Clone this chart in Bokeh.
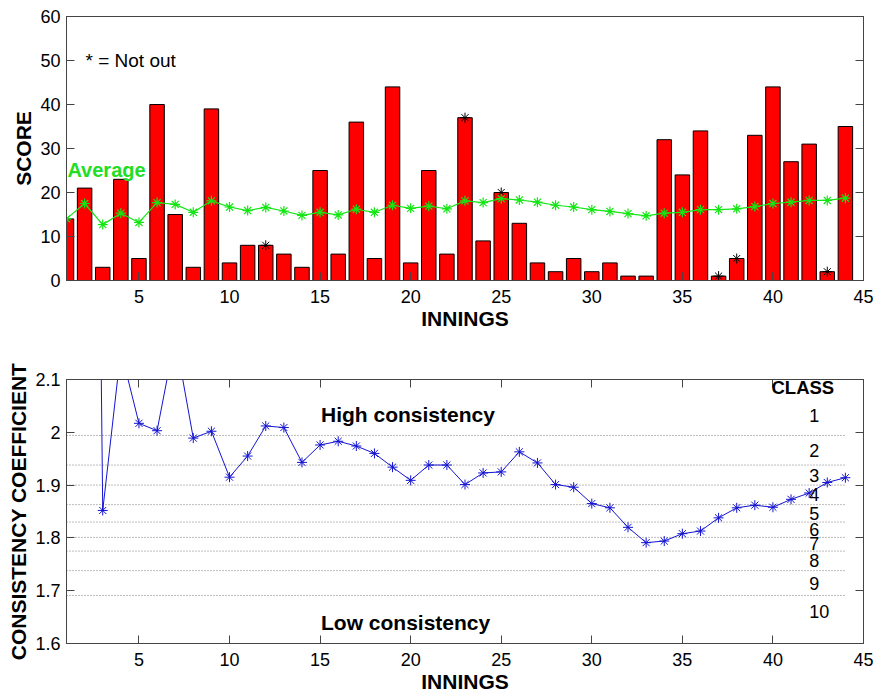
from bokeh.plotting import figure
from bokeh.layouts import column
from bokeh.models import (Range1d, FixedTicker, LinearAxis, CustomJSTickFormatter,
                          ColumnDataSource, Label)
from bokeh.embed import file_html
from bokeh.resources import INLINE

# ---------------- data ----------------
innings = list(range(1, 45))
scores = [14, 21, 3, 23, 5, 40, 15, 3, 39, 4, 8, 8, 6, 3, 25, 6, 36, 5, 44, 4, 25, 6,
          37, 9, 20, 13, 4, 2, 5, 2, 4, 1, 1, 32, 24, 34, 1, 5, 33, 44, 27, 31, 2, 35]
not_out = [12, 23, 25, 37, 38, 43]
average = [14.0, 17.5, 12.7, 15.3, 13.2, 17.7, 17.3, 15.5, 18.1, 16.7, 15.9, 16.6, 15.8,
           14.8, 15.5, 14.9, 16.2, 15.5, 17.1, 16.4, 16.9, 16.3, 18.1, 17.7, 18.6, 18.3,
           17.8, 17.1, 16.7, 16.1, 15.7, 15.2, 14.7, 15.3, 15.5, 16.1, 16.1, 16.3, 16.8,
           17.5, 17.8, 18.2, 18.2, 18.7]

coeff_innings = list(range(2, 45))
coeff = [5.0, 1.852, 2.155, 2.017, 2.003, 2.18, 1.989, 2.002, 1.915, 1.955, 2.012, 2.009,
         1.943, 1.976, 1.983, 1.974, 1.960, 1.934, 1.909, 1.938, 1.938, 1.901, 1.923,
         1.925, 1.963, 1.942, 1.901, 1.896, 1.865, 1.857, 1.820, 1.791, 1.794, 1.808,
         1.813, 1.838, 1.857, 1.862, 1.858, 1.873, 1.885, 1.905, 1.914]

class_bounds = [1.994, 1.938, 1.900, 1.863, 1.830, 1.801, 1.775, 1.738, 1.691]
class_names = ["1", "2", "3", "4", "5", "6", "7", "8", "9", "10"]
class_label_y = [2.032, 1.966, 1.918, 1.882, 1.847, 1.816, 1.789, 1.757, 1.713, 1.661]

x_ticks = [5, 10, 15, 20, 25, 30, 35, 40, 45]
score_ticks = [0, 10, 20, 30, 40, 50, 60]
coeff_ticks = [1.6, 1.7, 1.8, 1.9, 2.0, 2.1]

FONT = "Liberation Sans"
FRAME = "#444444"
RED = "#ff0000"
GREEN = "#14e614"
BLUE = "#1414d2"


def style_fig(p, xticks, yticks, ylabel, yfmt=None):
    p.outline_line_color = FRAME
    p.outline_line_width = 1
    p.xgrid.visible = False
    p.ygrid.visible = False
    p.background_fill_color = "white"
    p.border_fill_color = "white"
    for ax in (p.xaxis[0], p.yaxis[0]):
        ax.axis_line_color = FRAME
        ax.major_tick_line_color = FRAME
        ax.major_tick_in = 8
        ax.major_tick_out = 0
        ax.minor_tick_line_color = None
        ax.major_label_text_font = FONT
        ax.major_label_text_font_size = "18px"
        ax.major_label_text_color = "black"
        ax.axis_label_text_font = FONT
        ax.axis_label_text_font_size = "21px"
        ax.axis_label_text_font_style = "bold"
        ax.axis_label_text_color = "black"
    p.xaxis[0].major_label_standoff = 9
    p.xaxis[0].axis_label_standoff = 1
    p.yaxis[0].major_label_standoff = 6
    p.yaxis[0].axis_label_standoff = 2
    p.xaxis[0].ticker = FixedTicker(ticks=xticks)
    p.yaxis[0].ticker = FixedTicker(ticks=yticks)
    p.xaxis[0].axis_label = "INNINGS"
    p.yaxis[0].axis_label = ylabel
    if yfmt is not None:
        p.yaxis[0].formatter = yfmt
    # top and right inward ticks (MATLAB box style)
    for loc, ticks in (("above", xticks), ("right", yticks)):
        ax = LinearAxis(ticker=FixedTicker(ticks=ticks),
                        formatter=CustomJSTickFormatter(code="return ''"),
                        major_tick_in=8, major_tick_out=0,
                        major_tick_line_color=FRAME, axis_line_color=FRAME,
                        minor_tick_line_color=None,
                        major_label_text_font_size="0px", major_label_standoff=0)
        p.add_layout(ax, loc)


# ---------------- top: scores ----------------
p1 = figure(frame_width=797, frame_height=264,
            x_range=Range1d(1, 45), y_range=Range1d(0, 60),
            output_backend="svg", toolbar_location=None,
            min_border_left=66, min_border_right=12, min_border_top=16, min_border_bottom=58)
style_fig(p1, x_ticks, score_ticks, "SCORE")
p1.xaxis[0].major_tick_in = 0

p1.vbar(x=innings, top=scores, width=0.8, bottom=0,
        fill_color=RED, line_color="black", line_width=1)

no_src = ColumnDataSource(dict(x=not_out, y=[scores[i - 1] for i in not_out]))
p1.scatter("x", "y", source=no_src, marker="asterisk", size=10,
           line_color="black", line_width=1)

p1.line(innings, average, line_color=GREEN, line_width=1.2)
p1.scatter(innings, average, marker="asterisk", size=10, line_color=GREEN, line_width=1.2)

p1.add_layout(Label(x=2.05, y=50, text="* = Not out", text_font=FONT,
                    text_font_size="19px", text_color="black",
                    text_align="left", text_baseline="middle"))
p1.add_layout(Label(x=1.05, y=25.2, text="Average", text_font=FONT,
                    text_font_size="20px", text_font_style="bold", text_color="#22dd22",
                    text_align="left", text_baseline="middle"))

# ---------------- bottom: consistency ----------------
p2 = figure(frame_width=797, frame_height=264,
            x_range=Range1d(1, 45), y_range=Range1d(1.6, 2.1),
            output_backend="svg", toolbar_location=None,
            min_border_left=66, min_border_right=12, min_border_top=41, min_border_bottom=50)
style_fig(p2, x_ticks, coeff_ticks, "CONSISTENCY COEFFICIENT",
          yfmt=CustomJSTickFormatter(code="return String(Math.round(tick*10)/10)"))

p2.segment(x0=innings[0], x1=innings[-1], y0=class_bounds, y1=class_bounds,
           line_color="#7a7a7a", line_width=1, line_dash="1 2")

p2.line(coeff_innings, coeff, line_color=BLUE, line_width=1)
p2.scatter(coeff_innings, coeff, marker="asterisk", size=10, line_color=BLUE, line_width=1)

p2.add_layout(Label(x=15.05, y=2.034, text="High consistency", text_font=FONT,
                    text_font_size="21px", text_font_style="bold", text_color="black",
                    text_align="left", text_baseline="middle"))
p2.add_layout(Label(x=15.05, y=1.640, text="Low consistency", text_font=FONT,
                    text_font_size="21px", text_font_style="bold", text_color="black",
                    text_align="left", text_baseline="middle"))
p2.add_layout(Label(x=41.65, y=2.084, text="CLASS", text_font=FONT,
                    text_font_size="18.5px", text_font_style="bold", text_color="black",
                    text_align="center", text_baseline="middle"))
for name, yy in zip(class_names, class_label_y):
    p2.add_layout(Label(x=42.0, y=yy, text=name, text_font=FONT,
                        text_font_size="18px", text_color="black",
                        text_align="left", text_baseline="middle"))

layout = column(p1, p2, spacing=0)
open("out.html", "w").write(file_html(layout, INLINE))
